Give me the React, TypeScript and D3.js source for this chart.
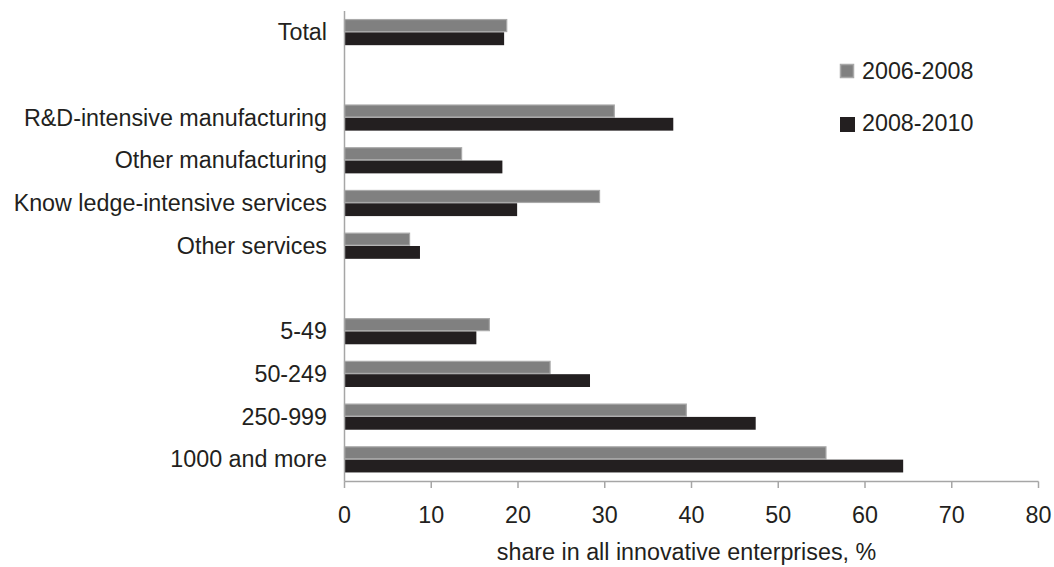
import React from "react";
import * as d3 from "d3";

const categories = [
  "Total",
  "",
  "R&D-intensive manufacturing",
  "Other manufacturing",
  "Know ledge-intensive services",
  "Other services",
  " ",
  "5-49",
  "50-249",
  "250-999",
  "1000 and more",
];
const series2006: (number | null)[] = [18.7, null, 31.1, 13.5, 29.4, 7.5, null, 16.7, 23.7, 39.4, 55.5];
const series2008: (number | null)[] = [18.4, null, 37.9, 18.2, 19.9, 8.7, null, 15.2, 28.3, 47.4, 64.4];
const xTicks = [0, 10, 20, 30, 40, 50, 60, 70, 80];
const seriesNames = ["2006-2008", "2008-2010"];

const W = 1054;
const H = 567;
const FONT = "'Liberation Sans', Arial, sans-serif";
const FS = 23.3;
const GRAY = "#808080";
const GRAY_STROKE = "#a9a9a9";
const BLACK = "#231f20";
const AXIS = "#a6a6a6";

export default function App() {
  const x = d3.scaleLinear().domain([0, 80]).range([344.5, 1038.5]);
  const y = d3.scaleBand<number>().domain(d3.range(categories.length)).range([11, 481]).padding(0);
  const bw = y.bandwidth();
  const barH = bw * 0.3;

  return (
    <svg width={W} height={H} style={{ position: "absolute", left: 0, top: 0, background: "#fff" }}>
      {categories.map((c, i) => {
        const cy = (y(i) as number) + bw / 2;
        const a = series2006[i];
        const b = series2008[i];
        return (
          <g key={i}>
            {a != null && (
              <rect x={x(0)} y={cy - barH} width={x(a) - x(0)} height={barH - 0.8} fill={GRAY} stroke={GRAY_STROKE} strokeWidth={1.2} />
            )}
            {b != null && (
              <rect x={x(0)} y={cy} width={x(b) - x(0)} height={barH} fill={BLACK} />
            )}
            {c.trim() !== "" && (
              <text x={327} y={cy} dy="0.33em" textAnchor="end" fontFamily={FONT} fontSize={FS} fill="#231f20">
                {c}
              </text>
            )}
          </g>
        );
      })}
      {/* axes */}
      <line x1={x(0)} x2={x(0)} y1={11} y2={481.5} stroke={AXIS} strokeWidth={1.5} />
      <line x1={x(0)} x2={x(80)} y1={481.5} y2={481.5} stroke={AXIS} strokeWidth={1.5} />
      {xTicks.map((t) => (
        <g key={t}>
          <line x1={x(t)} x2={x(t)} y1={481.5} y2={488} stroke={AXIS} strokeWidth={1.5} />
          <text x={x(t)} y={522.5} textAnchor="middle" fontFamily={FONT} fontSize={FS} fill="#231f20">
            {t}
          </text>
        </g>
      ))}
      <text x={686.5} y={560} textAnchor="middle" fontFamily={FONT} fontSize={FS} fill="#231f20">
        share in all innovative enterprises, %
      </text>
      {/* legend */}
      <rect x={840.5} y={64.5} width={13} height={13} fill={GRAY} stroke={GRAY_STROKE} strokeWidth={1.5} />
      <text x={862} y={78.5} fontFamily={FONT} fontSize={FS} fill="#231f20">{seriesNames[0]}</text>
      <rect x={840} y={117} width={15} height={15} fill={BLACK} />
      <text x={862} y={131} fontFamily={FONT} fontSize={FS} fill="#231f20">{seriesNames[1]}</text>
    </svg>
  );
}
